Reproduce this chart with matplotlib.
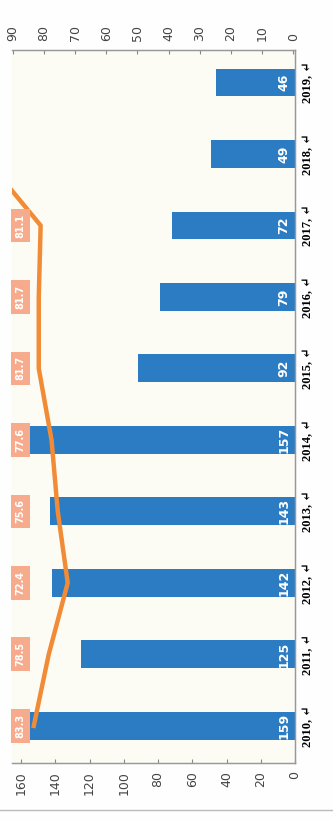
import numpy as np
import matplotlib
matplotlib.use("Agg")
import matplotlib.pyplot as plt

years = ['2010', '2011', '2012', '2013', '2014', '2015', '2016', '2017', '2018', '2019']
bar_vals = [159, 125, 142, 143, 157, 92, 79, 72, 49, 46]
# orange line on secondary axis (0-90), 2018 runs off the top, 2019 not shown
line_vals = [83.3, 78.5, 72.4, 75.6, 77.6, 81.7, 81.7, 81.1, 100, np.nan]
line_labels = ['83.3', '78.5', '72.4', '75.6', '77.6', '81.7', '81.7', '81.1']

left_ticks = [0, 20, 40, 60, 80, 100, 120, 140, 160]
right_ticks = [0, 10, 20, 30, 40, 50, 60, 70, 80, 90]

blue = '#2b7cc2'
orange = '#f28b36'
salmon = '#f6ab8c'

fig = plt.figure(figsize=(3.33, 8.21), dpi=100)
fig.patch.set_facecolor('#fefefe')
ax = fig.add_axes([0.036, 0.0706, 0.850, 0.869])
ax.set_facecolor('#fdfcf4')

y = np.arange(len(years))
ax.barh(y, bar_vals, height=0.39, color=blue, zorder=2)
ax.set_xlim(165.3, 0)
ax.set_ylim(-0.52, 9.46)

for i, v in enumerate(bar_vals):
    ax.text(6.5, i, str(v), rotation=90, color='white', fontsize=9,
            fontweight='bold', ha='center', va='center', zorder=3)

# original left axis -> now at the bottom
ax.set_xticks(left_ticks)
ax.set_xticklabels([str(t) for t in left_ticks], rotation=90, fontsize=9, color='#444444')
ax.tick_params(axis='x', direction='in', length=3, color='#888888', pad=6)

# categories -> now on the right
ax.yaxis.tick_right()
ax.set_yticks(y)
ax.set_yticklabels([yr + ', \u21b5' for yr in years], rotation=90, fontsize=9,
                   fontweight='bold', family=['Liberation Serif', 'DejaVu Serif'],
                   va='center')
ax.tick_params(axis='y', length=0, pad=5)

ax.spines['left'].set_visible(False)
for s in ['top', 'bottom', 'right']:
    ax.spines[s].set_color('#999999')
    ax.spines[s].set_linewidth(1)

# secondary axis -> now on top
ax2 = ax.twiny()
ax2.set_xlim(90.3, -0.6)
ax2.plot(line_vals, y, color=orange, lw=3.2, solid_joinstyle='round', zorder=4)
ax2.set_xticks(right_ticks)
ax2.set_xticklabels([str(t) for t in right_ticks], rotation=90, fontsize=9, color='#444444')
ax2.tick_params(axis='x', direction='in', length=3, color='#888888', pad=6)
ax2.spines['left'].set_visible(False)
for s in ['top', 'bottom', 'right']:
    ax2.spines[s].set_color('#999999')

for i, lab in enumerate(line_labels):
    ax2.text(87.6, i, lab, rotation=90, color='white', fontsize=7, fontweight='bold',
             ha='center', va='center', zorder=5,
             bbox=dict(boxstyle='square,pad=0.5', fc=salmon, ec='none'))

# faint scan border line at the bottom
fig.add_artist(plt.Line2D([0.0, 1.0], [0.014, 0.014], color='#bbbbbb', lw=1))

fig.savefig('out.png', dpi=100)
